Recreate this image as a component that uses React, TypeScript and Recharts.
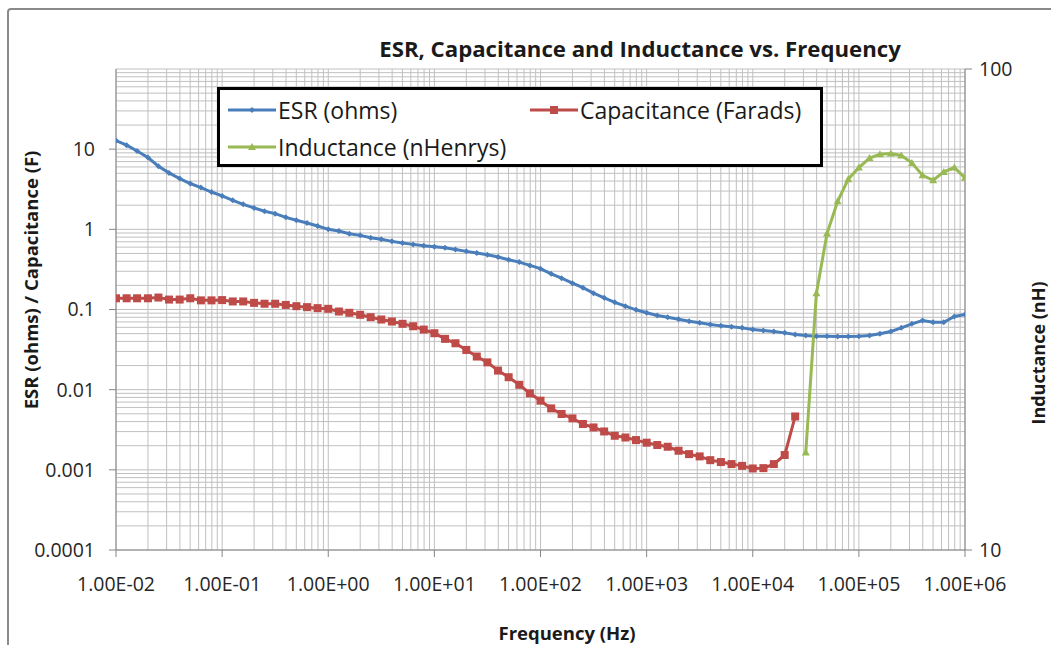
import React from "react";
import { ComposedChart, Line, XAxis, YAxis, CartesianGrid, Legend } from "recharts";

// frequency points, 10 per decade (Hz)
const freq = [
  0.01, 0.0126, 0.0158, 0.02, 0.0251, 0.0316, 0.0398, 0.0501, 0.0631, 0.0794,
  0.1, 0.126, 0.158, 0.2, 0.251, 0.316, 0.398, 0.501, 0.631, 0.794,
  1, 1.26, 1.58, 2, 2.51, 3.16, 3.98, 5.01, 6.31, 7.94,
  10, 12.6, 15.8, 20, 25.1, 31.6, 39.8, 50.1, 63.1, 79.4,
  100, 126, 158, 200, 251, 316, 398, 501, 631, 794,
  1000, 1260, 1580, 2000, 2510, 3160, 3980, 5010, 6310, 7940,
  10000, 12600, 15800, 20000, 25100, 31600, 39800, 50100, 63100, 79400,
  100000, 126000, 158000, 200000, 251000, 316000, 398000, 501000, 631000, 794000,
  1000000,
];

// ESR (ohms)
const esr = [
  12.8, 11.2, 9.5, 7.87, 6.13, 5.06, 4.3, 3.73, 3.32, 2.92,
  2.61, 2.3, 2.05, 1.85, 1.68, 1.57, 1.41, 1.3, 1.2, 1.1,
  1.0, 0.953, 0.883, 0.841, 0.787, 0.75, 0.708, 0.674, 0.649, 0.625,
  0.607, 0.59, 0.56, 0.531, 0.506, 0.483, 0.451, 0.418, 0.39, 0.355,
  0.323, 0.279, 0.246, 0.213, 0.187, 0.16, 0.14, 0.123, 0.11, 0.0991,
  0.091, 0.0841, 0.0802, 0.0757, 0.0714, 0.0682, 0.0649, 0.0625, 0.0608, 0.059,
  0.0562, 0.0546, 0.0531, 0.0511, 0.0487, 0.0473, 0.0464, 0.0464, 0.046, 0.046,
  0.0464, 0.0473, 0.0497, 0.0531, 0.059, 0.0663, 0.0729, 0.0694, 0.0694, 0.0818,
  0.0866,
];

// Capacitance (F), measured up to ~25 kHz
const cap = [
  0.138, 0.138, 0.138, 0.138, 0.141, 0.133, 0.133, 0.138, 0.13, 0.13,
  0.131, 0.126, 0.126, 0.121, 0.118, 0.118, 0.114, 0.11, 0.107, 0.104,
  0.102, 0.0944, 0.091, 0.0859, 0.0802, 0.075, 0.0708, 0.0663, 0.0618, 0.0562,
  0.0506, 0.043, 0.0379, 0.0313, 0.0259, 0.0219, 0.0173, 0.0143, 0.0115, 0.009,
  0.00729, 0.00584, 0.00497, 0.00438, 0.00373, 0.00338, 0.00301, 0.00266, 0.00253, 0.00235,
  0.00218, 0.00204, 0.00194, 0.00173, 0.00157, 0.00147, 0.00132, 0.00125, 0.00118, 0.00112,
  0.00104, 0.00105, 0.00118, 0.00153, 0.00463,
];

// Inductance (nH), from ~32 kHz on
const indStart = 65;
const ind = [
  15.95, 34.2, 45.5, 53.1, 59.0, 62.4, 65.3, 66.5, 66.7, 66.1,
  63.8, 60.1, 58.7, 61.1, 62.4, 59.4,
];

const xTicks = [1e-2, 1e-1, 1, 10, 100, 1e3, 1e4, 1e5, 1e6];
const leftTicks = [1e-4, 1e-3, 1e-2, 1e-1, 1, 10];
const rightTicks = [10, 100];

const data = freq.map((f, i) => ({
  f,
  esr: esr[i],
  cap: i < cap.length ? cap[i] : null,
  ind: i >= indStart ? ind[i - indStart] : null,
}));

// minor log grid lines
const decadeLines = (from: number, to: number) => {
  const out: number[] = [];
  for (let e = from; e < to; e++) {
    for (let m = 1; m < 10; m++) out.push(Number((m * Math.pow(10, e)).toPrecision(3)));
  }
  out.push(Math.pow(10, to));
  return out;
};
const xGrid = decadeLines(-2, 6);
const yGrid = decadeLines(-4, 2);

const BLUE = "#4A7EBB";
const RED = "#BE4B48";
const GREEN = "#98B954";
const FONT = "'Open Sans', sans-serif";

const formatSci = (v: number) => {
  const e = Math.round(Math.log10(v));
  const sign = e < 0 ? "-" : "+";
  return `1.00E${sign}${String(Math.abs(e)).padStart(2, "0")}`;
};

const diamondDot = (p: any) => {
  const { cx, cy, index } = p;
  if (cx == null || cy == null) return <g key={index} />;
  const s = 3;
  return (
    <polygon
      key={index}
      points={`${cx},${cy - s} ${cx + s},${cy} ${cx},${cy + s} ${cx - s},${cy}`}
      fill={BLUE}
    />
  );
};

const squareDot = (p: any) => {
  const { cx, cy, index } = p;
  if (cx == null || cy == null) return <g key={index} />;
  return <rect key={index} x={cx - 4} y={cy - 4} width={8} height={8} fill={RED} />;
};

const triangleDot = (p: any) => {
  const { cx, cy, index } = p;
  if (cx == null || cy == null) return <g key={index} />;
  return (
    <polygon
      key={index}
      points={`${cx},${cy - 4} ${cx + 4},${cy + 3} ${cx - 4},${cy + 3}`}
      fill={GREEN}
    />
  );
};

const LegendMark = ({ color, shape }: { color: string; shape: string }) => (
  <svg width={48} height={12} style={{ marginRight: 2 }}>
    <line x1={0} y1={6} x2={48} y2={6} stroke={color} strokeWidth={3} />
    {shape === "diamond" && <polygon points="24,3 27,6 24,9 21,6" fill={color} />}
    {shape === "square" && <rect x={20} y={2} width={8} height={8} fill={color} />}
    {shape === "triangle" && <polygon points="24,2 28,9 20,9" fill={color} />}
  </svg>
);

const LegendBox = () => {
  const item = (label: string, color: string, shape: string, left: number, top: number) => (
    <div
      style={{
        position: "absolute",
        left,
        top,
        display: "flex",
        alignItems: "center",
        whiteSpace: "nowrap",
        fontSize: 23,
        color: "#1a1a1a",
      }}
    >
      <LegendMark color={color} shape={shape} />
      {label}
    </div>
  );
  return (
    <div
      style={{
        position: "relative",
        width: 606,
        height: 80,
        border: "3px solid #000",
        boxSizing: "border-box",
        background: "#fff",
        fontFamily: FONT,
        lineHeight: "28px",
      }}
    >
      {item("ESR (ohms)", BLUE, "diamond", 8, 6)}
      {item("Capacitance (Farads)", RED, "square", 310, 6)}
      {item("Inductance (nHenrys)", GREEN, "triangle", 8, 43)}
    </div>
  );
};

const tickStyle = { fill: "#262626", fontSize: 19.5, fontFamily: FONT };

export default function App() {
  return (
    <div
      style={{
        position: "absolute",
        left: 0,
        top: 0,
        width: 1051,
        height: 645,
        overflow: "hidden",
        background: "#fff",
        fontFamily: FONT,
      }}
    >
      <div
        style={{
          position: "absolute",
          left: 7,
          top: 8,
          width: 1080,
          height: 700,
          border: "2px solid #8a8a8a",
          borderRadius: 4,
          boxSizing: "border-box",
        }}
      />
      <div style={{ position: "absolute", left: 0, top: 0 }}>
        <ComposedChart
          width={1051}
          height={645}
          data={data}
          margin={{ top: 69, right: 0, bottom: 0, left: 0 }}
        >
          <CartesianGrid
            xAxisId="f"
            yAxisId="left"
            verticalValues={xGrid}
            horizontalValues={yGrid}
            stroke="#c0c0c0"
            strokeWidth={1}
          />
          <XAxis
            xAxisId="f"
            dataKey="f"
            type="number"
            scale="log"
            domain={[0.01, 1e6]}
            ticks={xTicks}
            allowDataOverflow
            height={95}
            tick={tickStyle}
            tickFormatter={formatSci}
            tickSize={7}
            tickMargin={20}
            stroke="#868686"
            interval={0}
          />
          <YAxis
            yAxisId="left"
            type="number"
            scale="log"
            domain={[1e-4, 100]}
            ticks={leftTicks}
            allowDataOverflow
            width={116}
            tick={tickStyle}
            tickFormatter={(v: number) => String(v)}
            tickSize={7}
            tickMargin={14}
            stroke="#868686"
            interval={0}
          />
          <YAxis
            yAxisId="right"
            orientation="right"
            type="number"
            scale="log"
            domain={[10, 100]}
            ticks={rightTicks}
            allowDataOverflow
            width={86}
            tick={tickStyle}
            tickSize={7}
            tickMargin={7}
            stroke="#868686"
            interval={0}
          />
          <Legend
            layout="horizontal"
            verticalAlign="middle"
            align="center"
            content={() => <LegendBox />}
            wrapperStyle={{ left: 217, top: 87, width: 606, height: 80 }}
          />
          <Line
            xAxisId="f"
            yAxisId="left"
            dataKey="esr"
            name="ESR (ohms)"
            stroke={BLUE}
            strokeWidth={3}
            dot={diamondDot}
            activeDot={false}
            isAnimationActive={false}
          />
          <Line
            xAxisId="f"
            yAxisId="left"
            dataKey="cap"
            name="Capacitance (Farads)"
            stroke={RED}
            strokeWidth={3}
            dot={squareDot}
            activeDot={false}
            isAnimationActive={false}
          />
          <Line
            xAxisId="f"
            yAxisId="right"
            dataKey="ind"
            name="Inductance (nHenrys)"
            stroke={GREEN}
            strokeWidth={3}
            dot={triangleDot}
            activeDot={false}
            isAnimationActive={false}
          />
        </ComposedChart>
      </div>
      <svg
        width={1051}
        height={645}
        style={{ position: "absolute", left: 0, top: 0, pointerEvents: "none" }}
      >
        <text x={640} y={57} textAnchor="middle" fontSize={22.2} fontWeight="bold" fill="#1a1a1a" fontFamily={FONT}>
          ESR, Capacitance and Inductance vs. Frequency
        </text>
        <text
          transform="translate(38 280) rotate(-90)"
          textAnchor="middle"
          fontSize={18.5}
          fontWeight="bold"
          fill="#1a1a1a"
          fontFamily={FONT}
        >
          ESR (ohms) / Capacitance (F)
        </text>
        <text
          transform="translate(1045 353) rotate(-90)"
          textAnchor="middle"
          fontSize={18}
          fontWeight="bold"
          fill="#1a1a1a"
          fontFamily={FONT}
        >
          Inductance (nH)
        </text>
        <text x={567} y={640} textAnchor="middle" fontSize={18.5} fontWeight="bold" fill="#1a1a1a" fontFamily={FONT}>
          Frequency (Hz)
        </text>
      </svg>
    </div>
  );
}
